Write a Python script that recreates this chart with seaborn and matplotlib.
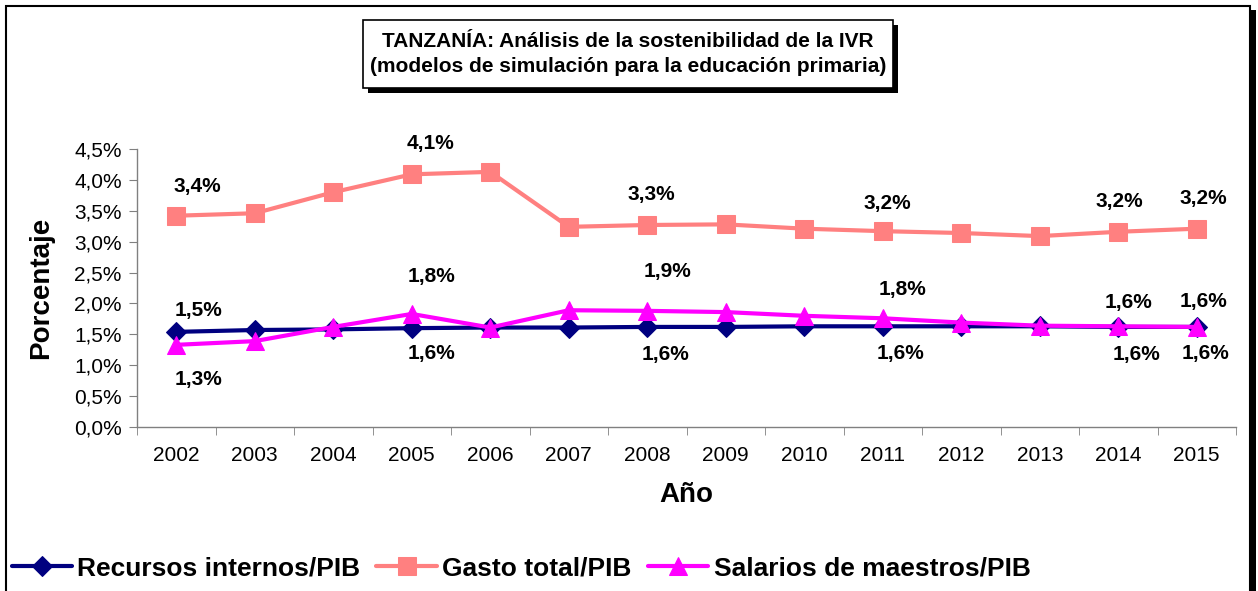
import numpy as np
import pandas as pd
import matplotlib
matplotlib.use("Agg")
import matplotlib.pyplot as plt
from matplotlib.patches import Rectangle
from matplotlib.ticker import FuncFormatter
import seaborn as sns

sns.set_style("white")
plt.rcParams['font.family'] = ['Liberation Sans', 'DejaVu Sans']
plt.rcParams['text.color'] = 'black'
plt.rcParams['axes.labelcolor'] = 'black'
plt.rcParams['xtick.color'] = 'black'
plt.rcParams['ytick.color'] = 'black'

# data (percent of GDP)
years = [2002, 2003, 2004, 2005, 2006, 2007, 2008, 2009, 2010, 2011, 2012, 2013, 2014, 2015]
recursos = [1.54, 1.57, 1.58, 1.60, 1.61, 1.61, 1.62, 1.62, 1.63, 1.63, 1.63, 1.63, 1.62, 1.62]
gasto = [3.42, 3.46, 3.80, 4.09, 4.13, 3.24, 3.27, 3.28, 3.21, 3.17, 3.14, 3.09, 3.16, 3.21]
salarios = [1.33, 1.39, 1.62, 1.83, 1.61, 1.89, 1.88, 1.86, 1.80, 1.76, 1.69, 1.64, 1.63, 1.62]

series_names = ["Recursos internos/PIB", "Gasto total/PIB", "Salarios de maestros/PIB"]
colors = ["#000080", "#FF8080", "#FF00FF"]

# which years carry a data label, per series
lab_recursos = [2002, 2005, 2008, 2011, 2014, 2015]
lab_gasto = [2002, 2005, 2008, 2011, 2014, 2015]
lab_salarios = [2002, 2005, 2008, 2011, 2014, 2015]

df = pd.DataFrame({
    "idx": list(range(len(years))) * 3,
    "valor": recursos + gasto + salarios,
    "serie": [series_names[0]] * len(years) + [series_names[1]] * len(years) + [series_names[2]] * len(years),
})

W, H = 1258, 591
fig = plt.figure(figsize=(W / 100, H / 100), dpi=100)
ax = fig.add_axes([137 / W, 1 - 427 / H, (1236 - 137) / W, (427 - 149) / H])

sns.lineplot(data=df, x="idx", y="valor", hue="serie", style="serie",
             hue_order=series_names, style_order=series_names,
             palette=dict(zip(series_names, colors)),
             markers=dict(zip(series_names, ["D", "s", "^"])),
             dashes=False, linewidth=3, legend=False, ax=ax)

msizes = [10.5, 13, 13]
for i, line in enumerate(ax.lines[:3]):
    line.set_markersize(msizes[i])
    line.set_markeredgecolor(colors[i])
    line.set_markerfacecolor(colors[i])
    line.set_solid_capstyle("round")
    line.set_zorder(3 + i)

ax.set_xlim(-0.5, len(years) - 0.5)
ax.set_ylim(0, 4.5)
ax.set_xticks(range(len(years)))
ax.set_xticklabels([str(y) for y in years], fontsize=15)
ax.set_xticks(np.arange(-0.5, len(years)), minor=True)
ax.tick_params(axis="x", which="major", length=0, pad=14)
ax.tick_params(axis="x", which="minor", length=6, color="#808080", direction="out")
ax.set_yticks(np.arange(0, 4.51, 0.5))
ax.yaxis.set_major_formatter(FuncFormatter(lambda v, p: f"{v:.1f}".replace(".", ",") + "%"))
ax.tick_params(axis="y", length=6, color="#808080", direction="out", labelsize=15, pad=5)
ax.tick_params(left=True, bottom=True, which="both")

for s in ["top", "right"]:
    ax.spines[s].set_visible(False)
for s in ["left", "bottom"]:
    ax.spines[s].set_color("#808080")
    ax.spines[s].set_linewidth(1)

ax.set_xlabel("Año", fontsize=20, fontweight="bold", labelpad=12)
ax.set_ylabel("Porcentaje", fontsize=20, fontweight="bold", labelpad=14)

# data labels: offsets in pixels (dx, dy-up)
def put_labels(vals, which, offs):
    for yr, (dx, dy) in zip(which, offs):
        i = years.index(yr)
        txt = f"{vals[i]:.1f}".replace(".", ",") + "%"
        ax.annotate(txt, (i, vals[i]), xytext=(dx * 0.72, dy * 0.72), textcoords="offset points",
                    ha="center", va="center", fontsize=15, fontweight="bold", zorder=10)

put_labels(gasto, lab_gasto, [(21, 29), (19, 31), (4, 30), (5, 28), (1, 30), (7, 30)])
put_labels(recursos, lab_recursos, [(22, 21), (20, -25), (18, -28), (18, -27), (18, -28), (9, -27)])
put_labels(salarios, lab_salarios, [(22, -35), (20, 37), (20, 39), (20, 29), (10, 24), (7, 25)])

# legend
fig.legend(ax.lines[:3], series_names, loc="center", bbox_to_anchor=(521 / W, 1 - 568 / H),
           ncol=3, frameon=False, prop={"size": 19, "weight": "bold"},
           handlelength=2.3, handletextpad=0.2, columnspacing=0.6)

# outer border with shadow
fig.patches.append(Rectangle((1250 / W, -0.05), 6 / W, 1 - 10 / H + 0.05, transform=fig.transFigure,
                             facecolor="black", edgecolor="none", zorder=0))
fig.patches.append(Rectangle((6 / W, -0.05), 1244 / W, 1 - 6 / H + 0.05, transform=fig.transFigure,
                             facecolor="none", edgecolor="black", linewidth=1.5, zorder=1))

# title box with shadow
bx0, bx1, by0, by1 = 363, 893, 20, 88
fig.patches.append(Rectangle(((bx0 + 5) / W, 1 - (by1 + 5) / H), (bx1 - bx0) / W, (by1 - by0) / H,
                             transform=fig.transFigure, facecolor="black", edgecolor="none", zorder=5))
fig.patches.append(Rectangle((bx0 / W, 1 - by1 / H), (bx1 - bx0) / W, (by1 - by0) / H,
                             transform=fig.transFigure, facecolor="white", edgecolor="black",
                             linewidth=1.2, zorder=6))
fig.text((bx0 + bx1) / 2 / W, 1 - 54 / H,
         "TANZANÍA: Análisis de la sostenibilidad de la IVR\n(modelos de simulación para la educación primaria)",
         ha="center", va="center", fontsize=15, fontweight="bold", linespacing=1.35, zorder=7)

fig.savefig("out.png", dpi=100)
